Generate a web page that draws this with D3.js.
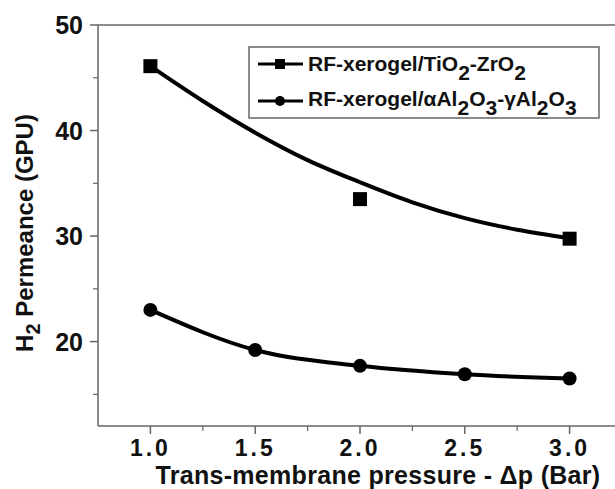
<!DOCTYPE html>
<html>
<head>
<meta charset="utf-8">
<script src="https://cdn.jsdelivr.net/npm/d3@7"></script>
<style>
  body { margin: 0; background: #fff; }
  text { font-family: "Liberation Sans", Arial, sans-serif; font-weight: bold; fill: #111; }
</style>
</head>
<body>
<div id="chart"></div>
<script>
// measured points
var pressureSq = [1.0, 2.0, 3.0],
    permTiZr = [46.1, 33.5, 29.75];
// fitted curve through the square points
var fitX = [1.0, 1.25, 1.5, 1.75, 2.0, 2.25, 2.5, 2.75, 3.0],
    fitTiZr = [46.1, 42.8, 39.8, 37.2, 35.1, 33.2, 31.7, 30.6, 29.8];
var pressureCi = [1.0, 1.5, 2.0, 2.5, 3.0],
    permAl = [23.0, 19.2, 17.7, 16.9, 16.5];
var xTicks = [1.0, 1.5, 2.0, 2.5, 3.0],
    xMinor = [1.25, 1.75, 2.25, 2.75],
    yTicks = [20, 30, 40, 50],
    yMinor = [15, 25, 35, 45];

var width = 615, height = 489;
var axisCol = "#666";

var svg = d3.select("#chart").append("svg")
    .attr("width", width)
    .attr("height", height);

var x = d3.scaleLinear().domain([0.75, 3.25]).range([98, 622]);
var y = d3.scaleLinear().domain([12, 50]).range([426, 25]);

// frame: left, bottom, top (right side is cut off by the picture)
svg.append("line").attr("x1", x(0.75)).attr("x2", x(0.75)).attr("y1", y(12)).attr("y2", y(50))
    .attr("stroke", axisCol).attr("stroke-width", 1.5);
svg.append("line").attr("x1", x(0.75)).attr("x2", width).attr("y1", y(12)).attr("y2", y(12))
    .attr("stroke", axisCol).attr("stroke-width", 1.5);
svg.append("line").attr("x1", x(0.75)).attr("x2", width).attr("y1", y(50)).attr("y2", y(50))
    .attr("stroke", axisCol).attr("stroke-width", 1.5);

// x ticks
svg.selectAll(".xt").data(xTicks).enter().append("line")
    .attr("x1", d => x(d)).attr("x2", d => x(d))
    .attr("y1", y(12)).attr("y2", y(12) + 8)
    .attr("stroke", axisCol).attr("stroke-width", 1.5);
svg.selectAll(".xm").data(xMinor).enter().append("line")
    .attr("x1", d => x(d)).attr("x2", d => x(d))
    .attr("y1", y(12)).attr("y2", y(12) + 5)
    .attr("stroke", axisCol).attr("stroke-width", 1.2);
svg.selectAll(".xl").data(xTicks).enter().append("text")
    .attr("x", d => x(d)).attr("y", 455.5)
    .attr("text-anchor", "middle")
    .style("font-size", "23px")
    .style("letter-spacing", "3px")
    .text(d => d.toFixed(1));

// y ticks
svg.selectAll(".yt").data(yTicks).enter().append("line")
    .attr("x1", x(0.75) - 8).attr("x2", x(0.75))
    .attr("y1", d => y(d)).attr("y2", d => y(d))
    .attr("stroke", axisCol).attr("stroke-width", 1.5);
svg.selectAll(".ym").data(yMinor).enter().append("line")
    .attr("x1", x(0.75) - 5).attr("x2", x(0.75))
    .attr("y1", d => y(d)).attr("y2", d => y(d))
    .attr("stroke", axisCol).attr("stroke-width", 1.2);
svg.selectAll(".yl").data(yTicks).enter().append("text")
    .attr("x", 83).attr("y", d => y(d))
    .attr("dy", "0.36em")
    .attr("text-anchor", "end")
    .style("font-size", "25px")
    .text(d => d);

// axis titles
svg.append("text")
    .attr("x", 378).attr("y", 483.5)
    .attr("text-anchor", "middle")
    .style("font-size", "25px")
    .style("letter-spacing", "0.3px")
    .text("Trans-membrane pressure - \u0394p (Bar)");

var yt = svg.append("text")
    .attr("transform", "translate(33,233) rotate(-90)")
    .attr("text-anchor", "middle")
    .style("font-size", "24px");
yt.append("tspan").text("H");
yt.append("tspan").attr("dy", 7).style("font-size", "20px").text("2");
yt.append("tspan").attr("dy", -7).text(" Permeance (GPU)");

// curves
var fitLine = d3.line()
    .x(d => x(d[0])).y(d => y(d[1]))
    .curve(d3.curveCatmullRom);

svg.append("path")
    .datum(d3.zip(fitX, fitTiZr))
    .attr("d", fitLine)
    .attr("fill", "none").attr("stroke", "#000").attr("stroke-width", 4);

svg.append("path")
    .datum(d3.zip(pressureCi, permAl))
    .attr("d", fitLine.curve(d3.curveMonotoneX))
    .attr("fill", "none").attr("stroke", "#000").attr("stroke-width", 4);

svg.selectAll(".sq").data(d3.zip(pressureSq, permTiZr)).enter().append("rect")
    .attr("x", d => x(d[0]) - 7).attr("y", d => y(d[1]) - 7)
    .attr("width", 14).attr("height", 14)
    .attr("fill", "#000");

svg.selectAll(".ci").data(d3.zip(pressureCi, permAl)).enter().append("circle")
    .attr("cx", d => x(d[0])).attr("cy", d => y(d[1]))
    .attr("r", 7)
    .attr("fill", "#000");

// legend
var legend = svg.append("g");
legend.append("rect")
    .attr("x", 249).attr("y", 47).attr("width", 350).attr("height", 71)
    .attr("fill", "#fff").attr("stroke", axisCol).attr("stroke-width", 1.5);

function legendText(g, parts, yy) {
    var t = g.append("text").attr("x", 308).attr("y", yy).style("font-size", "21px");
    var shift = 0;
    parts.forEach(function (p) {
        var s = p.sub ? 9 : 0;
        t.append("tspan").attr("dy", s - shift).text(p.t);
        shift = s;
    });
}

legend.append("line").attr("x1", 258).attr("x2", 303).attr("y1", 64).attr("y2", 64)
    .attr("stroke", "#000").attr("stroke-width", 3);
legend.append("rect").attr("x", 275).attr("y", 59).attr("width", 10).attr("height", 10).attr("fill", "#000");
legendText(legend, [{t: "RF-xerogel/TiO"}, {t: "2", sub: true}, {t: "-ZrO"}, {t: "2", sub: true}], 71);

legend.append("line").attr("x1", 258).attr("x2", 303).attr("y1", 101).attr("y2", 101)
    .attr("stroke", "#000").attr("stroke-width", 3);
legend.append("circle").attr("cx", 280).attr("cy", 101).attr("r", 5).attr("fill", "#000");
legendText(legend, [{t: "RF-xerogel/\u03b1Al"}, {t: "2", sub: true}, {t: "O"}, {t: "3", sub: true},
    {t: "-\u03b3Al"}, {t: "2", sub: true}, {t: "O"}, {t: "3", sub: true}], 106);
</script>
</body>
</html>
